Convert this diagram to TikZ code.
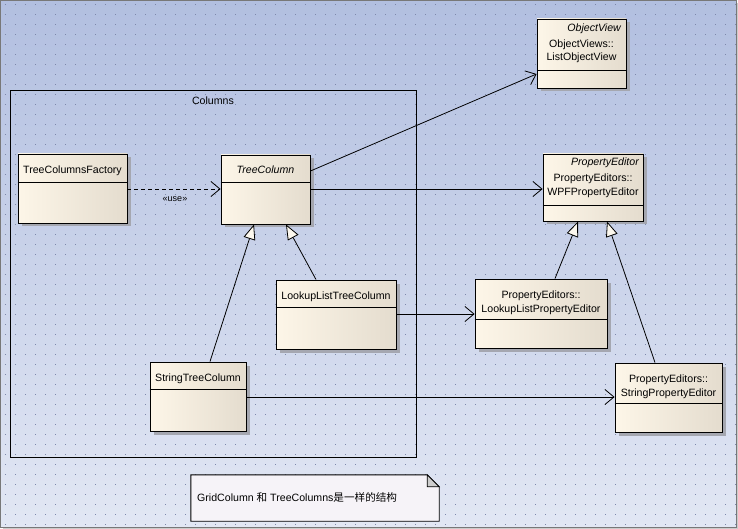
\documentclass[tikz,border=0pt]{standalone}
\usepackage{fontspec}
\setmainfont{Liberation Sans}
\newfontfamily\cjk{Noto Sans CJK SC}
\usetikzlibrary{arrows.meta,shadows,calc}
\definecolor{bgtop}{RGB}{178,191,224}
\definecolor{bgbot}{RGB}{226,231,244}
\definecolor{dotc}{RGB}{125,135,170}
\definecolor{boxl}{RGB}{253,246,232}
\definecolor{boxr}{RGB}{228,220,206}
\definecolor{shadowc}{RGB}{165,167,176}
\definecolor{notefill}{RGB}{246,243,248}
\definecolor{foldc}{RGB}{205,205,205}
\definecolor{trifill}{RGB}{252,248,238}
\definecolor{framec}{RGB}{120,120,120}
\tikzset{
  cls/.style={draw=black, line width=0.9pt, left color=boxl, right color=boxr,
    drop shadow={shadow xshift=3.5pt, shadow yshift=-3.5pt, fill=shadowc, opacity=1},
    inner sep=0pt},
  divline/.style={draw=black, line width=0.9pt},
  txt/.style={font=\fontsize{10.6}{12}\selectfont, inner sep=0pt, anchor=base},
  assoc/.style={draw=black, line width=0.8pt, -{Straight Barb[length=9pt,width=15pt,line width=0.8pt]}},
  dep/.style={draw=black, line width=0.8pt, dash pattern=on 4pt off 3pt, -{Straight Barb[length=9pt,width=15pt,line width=0.8pt]}},
  gen/.style={draw=black, line width=0.8pt, -{Triangle[length=15pt,width=12pt,fill=trifill,line width=0.8pt]}},
  pkg/.style={draw=black, line width=0.9pt, inner sep=0pt}
}
\begin{document}
\begin{tikzpicture}[x=1pt,y=-1pt]
\useasboundingbox (0,0) rectangle (738,529);
% background
\shade[top color=bgtop, bottom color=bgbot] (0,0) rectangle (736,527);
\foreach \i in {0,...,73}{
  \foreach \j in {0,...,52}{
    \fill[dotc] (\i*10+4.6,\j*10+3.6) rectangle ++(0.8,0.8);
  }
}
\draw[framec, line width=1pt] (0.5,0.5) rectangle (736,527);
\fill[gray!40] (736.5,3) rectangle (738,529);
\fill[gray!40] (3,527.5) rectangle (738,529);

% package
\node[pkg, minimum width=405.5pt, minimum height=367pt] (cols) at (213.25,273.5) {};
\node[txt] (colsname) at (213,105) {Columns};

% classes
\node[cls, minimum width=89pt, minimum height=69pt] (ov) at (581.5,53.5) {};
\node[cls, minimum width=109pt, minimum height=69pt] (tcf) at (72.5,188.5) {};
\node[cls, minimum width=89pt, minimum height=69pt] (tc) at (265.5,189.5) {};
\node[cls, minimum width=100pt, minimum height=67pt] (wpf) at (593,187.5) {};
\node[cls, minimum width=120pt, minimum height=69pt] (lltc) at (336,314.5) {};
\node[cls, minimum width=132pt, minimum height=69pt] (llpe) at (541,313.5) {};
\node[cls, minimum width=96pt, minimum height=69pt] (stc) at (198,396.5) {};
\node[cls, minimum width=107pt, minimum height=69pt] (spe) at (668.5,397.5) {};

% dividers
\draw[divline] (ov.west |- 0,70) -- (ov.east |- 0,70);
\draw[divline] (tcf.west |- 0,182) -- (tcf.east |- 0,182);
\draw[divline] (tc.west |- 0,182) -- (tc.east |- 0,182);
\draw[divline] (wpf.west |- 0,205) -- (wpf.east |- 0,205);
\draw[divline] (lltc.west |- 0,307) -- (lltc.east |- 0,307);
\draw[divline] (llpe.west |- 0,319) -- (llpe.east |- 0,319);
\draw[divline] (stc.west |- 0,389) -- (stc.east |- 0,389);
\draw[divline] (spe.west |- 0,403) -- (spe.east |- 0,403);

% class texts
\node[txt, anchor=base east] (ovst) at (621,32) {\itshape ObjectView};
\node[txt] (ovn1) at (581.5,48) {ObjectViews::};
\node[txt] (ovn2) at (581.5,61) {ListObjectView};
\node[txt] (tcfn) at (72.5,173.5) {TreeColumnsFactory};
\node[txt] (tcn) at (265.5,173.5) {\itshape TreeColumn};
\node[txt, anchor=base east] (wpfst) at (639,166) {\itshape PropertyEditor};
\node[txt] (wpfn1) at (593,182) {PropertyEditors::};
\node[txt] (wpfn2) at (593,196) {WPFPropertyEditor};
\node[txt] (lltcn) at (336,299.5) {LookupListTreeColumn};
\node[txt] (llpen1) at (541,298.5) {PropertyEditors::};
\node[txt] (llpen2) at (541,312) {LookupListPropertyEditor};
\node[txt] (stcn) at (198,381.5) {StringTreeColumn};
\node[txt] (spen1) at (668.5,382.5) {PropertyEditors::};
\node[txt] (spen2) at (668.5,396) {StringPropertyEditor};

% connectors
\draw[dep] (tcf.east |- 0,189) -- (tc.west |- 0,189);
\node[txt, font=\fontsize{9}{10}\selectfont] (use) at (175,202) {«use»};
\draw[assoc] (tc.east |- 0,171) -- (ov.west |- 0,74);
\draw[assoc] (tc.east |- 0,189) -- (wpf.west |- 0,189);
\draw[gen] (stc.north -| 210,0) -- (tc.south -| 254,0);
\draw[gen] (lltc.north -| 316,0) -- (tc.south -| 286,0);
\draw[assoc] (lltc.east |- 0,314) -- (llpe.west |- 0,314);
\draw[assoc] (stc.east |- 0,397) -- (spe.west |- 0,397);
\draw[gen] (llpe.north -| 555,0) -- (wpf.south -| 578,0);
\draw[gen] (spe.north -| 655,0) -- (wpf.south -| 607,0);

% note
\node[inner sep=0pt, minimum width=248pt, minimum height=46pt] (note) at (315,498) {};
\draw[black, line width=0.9pt, fill=notefill]
  (note.north west) -- ($(note.north east)+(-12,0)$) -- ($(note.north east)+(0,12)$)
  -- (note.south east) -- (note.south west) -- cycle;
\draw[black, line width=0.7pt, fill=foldc]
  ($(note.north east)+(-12,0)$) -- ($(note.north east)+(-12,12)$) -- ($(note.north east)+(0,12)$) -- cycle;
\node[txt, anchor=base west] (notetext) at (197,501) {GridColumn {\cjk 和} TreeColumns{\cjk 是一样的结构}};
\end{tikzpicture}
\end{document}
